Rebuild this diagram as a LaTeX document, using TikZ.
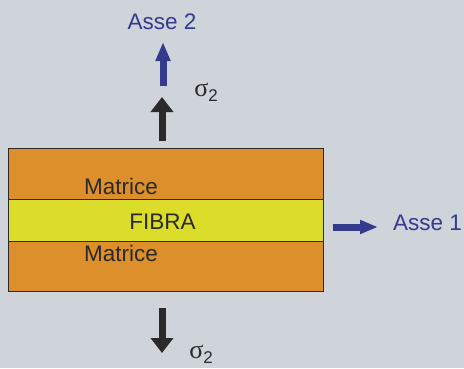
\documentclass[tikz,border=0pt]{standalone}
\usepackage{fontspec}
\setmainfont{Liberation Sans}
\newfontfamily\greekfont{Liberation Serif}
\usetikzlibrary{arrows.meta,positioning}

\definecolor{sfondo}{HTML}{CED4D9}
\definecolor{arancio}{HTML}{DD8F2B}
\definecolor{giallo}{HTML}{DCDC2A}
\definecolor{blu}{HTML}{343A8C}
\definecolor{scuro}{HTML}{2A2A2A}

\newcommand{\sigmadue}{{\greekfont\fontsize{26}{28}\selectfont σ}\raisebox{-5pt}{\fontsize{17}{18}\selectfont 2}}

\begin{document}
\begin{tikzpicture}[x=1pt,y=-1pt,
	strato/.style={draw=scuro,line width=0.9pt,minimum width=315pt,inner sep=0pt,outer sep=0pt},
	testo/.style={font=\fontsize{22.5}{24}\selectfont,text=scuro,inner sep=0pt},
	tensione/.style={scuro,line width=7pt,-{Triangle[length=15pt,width=22pt]}},
	asse/.style={blu,line width=7pt,-{Triangle[length=19pt,width=14pt]}},
]

\useasboundingbox[fill=sfondo] (0,0) rectangle (464,368);

%Provino
\node [strato,fill=arancio,minimum height=143pt] (matrice) at (165.5,219.5) {};
\node [strato,fill=giallo,minimum height=42pt] (fibra) at (165.5,220) {};
\node [testo] (fibratext) at (162.5,221.5) {FIBRA};
\node [testo] (mtop) at (121,186.5) {Matrice};
\node [testo] (mbot) at (121,253) {Matrice};

%Tensione sopra
\coordinate (sup0) at (162,141);
\coordinate (sup1) at (162,97);
\draw[tensione] (sup0) -- (sup1);
\node [testo] (sigmasup) at (206,92) {\sigmadue};

%Tensione sotto
\coordinate (inf0) at (162,308);
\coordinate (inf1) at (162,353);
\draw[tensione] (inf0) -- (inf1);
\node [testo] (sigmainf) at (201,354) {\sigmadue};

%Asse 2
\coordinate (a2base) at (163,86);
\coordinate (a2tip) at (163,42);
\draw[asse] (a2base) -- (a2tip);
\node [testo,text=blu] (asse2) at (162,22) {Asse 2};

%Asse 1
\coordinate (a1base) at (333,227);
\coordinate (a1tip) at (378,227);
\draw[asse,-{Triangle[length=18pt,width=13pt]}] (a1base) -- (a1tip);
\node [testo,text=blu] (asse1) at (427.5,223) {Asse 1};

\end{tikzpicture}
\end{document}
